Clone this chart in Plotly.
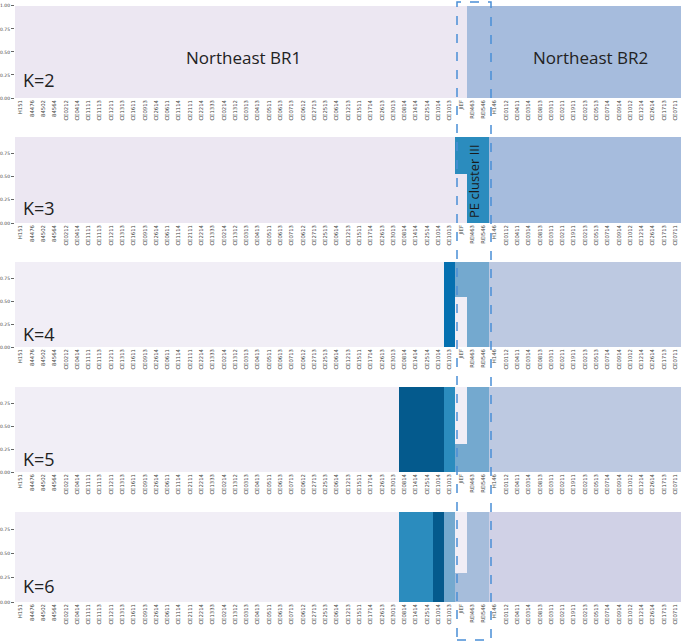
import plotly.graph_objects as go

# ---------------- data ----------------
samples = ["H151", "84476", "84502", "84564", "CE0212", "CE0414", "CE1111", "CE1113", "CE1211",
           "CE1313", "CE1611", "CE0913", "CE2614", "CE0611", "CE1114", "CE2111", "CE2214", "CE1333",
           "CE0214", "CE1312", "CE0313", "CE0413", "CE0511", "CE0613", "CE0713", "CE0612", "CE2713",
           "CE2513", "CE0614", "CE1213", "CE1511", "CE1714", "CE2613", "CE3013", "CE0814", "CE1414",
           "CE2514", "CE1014", "CE1013", "JIEF", "REI463", "REI546", "H146", "CE0112", "CE0411",
           "CE0314", "CE0813", "CE0311", "CE0211", "CE1911", "CE0213", "CE0513", "CE0714", "CE0914",
           "CE1012", "CE1214", "CE2614", "CE1713", "CE0711"]

# K=2 memberships (bottom -> top)
k2_br1 = [1.0] * 39 + [1.0, 0.0, 0.0] + [0.0] * 17
k2_br2 = [0.0] * 39 + [0.0, 1.0, 1.0] + [1.0] * 17

# K=3
k3_br1 = [1.0] * 39 + [0.53, 0.0, 0.0] + [0.0] * 17
k3_pe = [0.0] * 39 + [0.47, 1.0, 1.0] + [0.0] * 17
k3_br2 = [0.0] * 42 + [1.0] * 17

# K=4
k4_br1 = [1.0] * 38 + [0.0] + [0.55, 0.0, 0.0] + [0.0] * 17
k4_ce = [0.0] * 38 + [1.0] + [0.0, 0.0, 0.0] + [0.0] * 17
k4_pe = [0.0] * 39 + [0.45, 1.0, 1.0] + [0.0] * 17
k4_br2 = [0.0] * 42 + [1.0] * 17

# K=5
k5_pe = [0.0] * 39 + [0.31, 1.0, 1.0] + [0.0] * 17
k5_br1 = [1.0] * 34 + [0.0] * 5 + [0.69, 0.0, 0.0] + [0.0] * 17
k5_dark = [0.0] * 34 + [1.0] * 4 + [0.0] + [0.0] * 20
k5_mid = [0.0] * 38 + [1.0] + [0.0] * 20
k5_br2 = [0.0] * 42 + [1.0] * 17

# K=6
k6_pe = [0.0] * 39 + [0.30, 1.0, 1.0] + [0.0] * 17
k6_br1 = [1.0] * 34 + [0.0] * 5 + [0.70, 0.0, 0.0] + [0.0] * 17
k6_mid = [0.0] * 34 + [1.0] * 3 + [0.0] * 22
k6_dark = [0.0] * 37 + [1.0] + [0.0] * 21
k6_light = [0.0] * 38 + [1.0] + [0.0] * 20
k6_br2 = [0.0] * 42 + [1.0] * 17

panels = [
    ("K=2", [(k2_br1, "#ece7f2"), (k2_br2, "#a6bcdd")]),
    ("K=3", [(k3_br1, "#ece7f2"), (k3_pe, "#2b8cbe"), (k3_br2, "#a6bcdd")]),
    ("K=4", [(k4_br1, "#f1eef6"), (k4_ce, "#0570b0"), (k4_pe, "#74a9cf"), (k4_br2, "#bdc9e1")]),
    ("K=5", [(k5_pe, "#74a9cf"), (k5_br1, "#f1eef6"), (k5_dark, "#045a8d"), (k5_mid, "#2b8cbe"),
             (k5_br2, "#bdc9e1")]),
    ("K=6", [(k6_pe, "#a6bddb"), (k6_br1, "#f1eef6"), (k6_mid, "#2b8cbe"), (k6_dark, "#045a8d"),
             (k6_light, "#74a9cf"), (k6_br2, "#d0d1e6")]),
]

yticks = [0.0, 0.25, 0.5, 0.75, 1.0]
ytick_text = ["0.00", "0.25", "0.50", "0.75", "1.00"]

# ---------------- layout ----------------
W, H = 685, 644
L, R = 15, 4
# pixel (top, bottom) of each panel
panel_px = [(5, 98), (137, 223), (262, 347), (387, 472), (512, 602)]
y_tops = [1.01, 0.93, 0.93, 0.93, 0.93]
k_label_px = [80, 208, 334, 459, 586]


def py(p):
    return 1 - p / H


def px(p):
    return (p - L) / (W - L - R)


x_idx = list(range(len(samples)))

fig = go.Figure()
layout = dict(
    width=W, height=H, barmode="stack", bargap=0, showlegend=False,
    plot_bgcolor="white", paper_bgcolor="white",
    margin=dict(l=L, r=R, t=0, b=0),
    font=dict(family="DejaVu Sans", color="#333"),
)

annotations = []
for i, (klabel, series) in enumerate(panels):
    s = "" if i == 0 else str(i + 1)
    for vals, col in series:
        fig.add_trace(go.Bar(x=x_idx, y=vals, marker=dict(color=col, line=dict(width=0)),
                             xaxis="x" + s, yaxis="y" + s, hoverinfo="skip"))
    top, bot = panel_px[i]
    layout["xaxis" + s] = dict(
        domain=[0, 1], anchor="y" + s, range=[-0.5, len(samples) - 0.5],
        tickmode="array", tickvals=x_idx, ticktext=samples, tickangle=-90,
        tickfont=dict(size=5.3, color="#444"), showgrid=False, zeroline=False,
        showline=False, ticks="", automargin=False,
    )
    layout["yaxis" + s] = dict(
        domain=[py(bot), py(top)], anchor="x" + s, range=[0, y_tops[i]],
        tickmode="array", tickvals=yticks, ticktext=ytick_text,
        ticks="outside", ticklen=3, tickwidth=0.6, tickcolor="#666",
        tickfont=dict(size=4.5, color="#444"), showgrid=False, zeroline=False,
        showline=False, automargin=False,
    )
    annotations.append(dict(
        text=klabel, xref="paper", yref="paper", x=px(21), y=py(k_label_px[i]),
        xanchor="left", yanchor="middle", showarrow=False,
        font=dict(size=18, color="#222", family="Open Sans"),
    ))

annotations += [
    dict(text="Northeast BR1", xref="paper", yref="paper", x=px(243), y=py(57),
         xanchor="center", yanchor="middle",
         showarrow=False, font=dict(size=17, color="#222", family="Open Sans")),
    dict(text="Northeast BR2", xref="paper", yref="paper", x=px(590), y=py(57),
         xanchor="center", yanchor="middle",
         showarrow=False, font=dict(size=17, color="#222", family="Open Sans")),
    dict(text="PE cluster III", xref="paper", yref="paper", x=px(474), y=py(181),
         xanchor="center", yanchor="middle",
         textangle=-90, showarrow=False, font=dict(size=13, color="#1a1a1a", family="Open Sans")),
]
layout["annotations"] = annotations
layout["shapes"] = [dict(
    type="rect", xref="paper", yref="paper", x0=px(457), x1=px(491), y0=py(640), y1=py(2),
    line=dict(color="#4a8fd6", width=1.5, dash="dash"), fillcolor="rgba(0,0,0,0)", layer="above",
)]

fig.update_layout(**layout)
fig.write_html("out.html", config={"displayModeBar": False},
               post_script="document.body.style.margin='0px';")
